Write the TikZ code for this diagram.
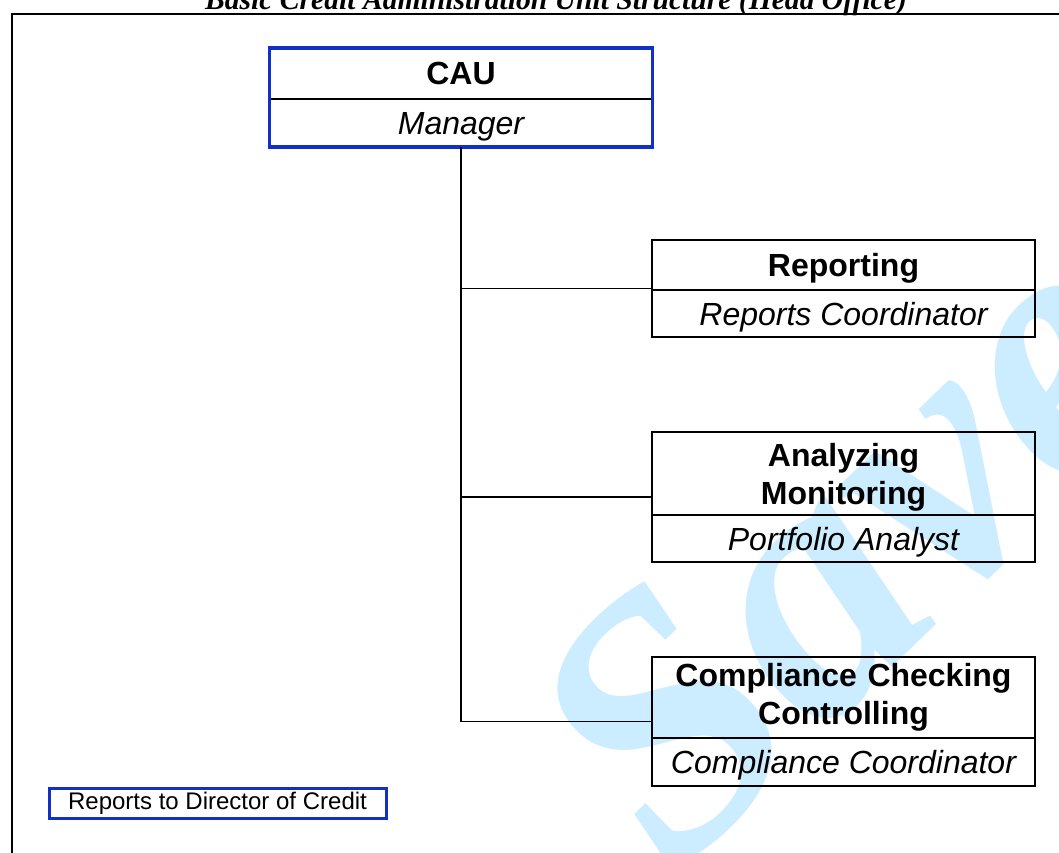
\documentclass[tikz,border=0pt]{standalone}
\usepackage{fontspec}
\setmainfont{Liberation Sans}
\newfontfamily\titlefont{Liberation Serif}
\usepackage{tikz}
\usetikzlibrary{positioning, calc}
\definecolor{caublue}{RGB}{16,48,200}
\definecolor{markblue}{RGB}{204,236,255}
\tikzstyle{head} = [rectangle, draw, line width=1pt, outer sep=0pt, minimum width=191.5pt, text width=185pt, align=center, inner sep=0pt, font=\bfseries\fontsize{16}{19}\selectfont]
\tikzstyle{role} = [rectangle, draw, line width=1pt, outer sep=0pt, minimum width=191.5pt, minimum height=23.5pt, text depth=0pt, inner sep=0pt, font=\itshape\fontsize{16}{19}\selectfont]
\tikzstyle{blueframe} = [draw=caublue, line width=1.6pt]
\tikzstyle{link} = [line width=0.9pt]

\begin{document}
\begin{tikzpicture}[x=0.5pt, y=-0.5pt]
        \useasboundingbox (0,0) rectangle (1059,852);
        % Watermark and page frame
        \node (mark) [rotate=44, text=markblue, font=\titlefont\bfseries\itshape\fontsize{182}{182}\selectfont] at (845,548) {Save};
        \node (title) [anchor=base, font=\titlefont\bfseries\itshape\fontsize{14.8}{17}\selectfont] at (556,9) {Basic Credit Administration Unit Structure (Head Office)};
        \draw [line width=1.2pt] (12,900) -- (12,14) -- (1100,14);

        % Nodes
        \node (cau) [head, minimum height=25.5pt, text depth=0pt, anchor=north] at (461,48) {CAU};
        \node (cauRole) [role, below=0pt of cau, minimum height=24pt] {Manager};
        \draw [blueframe] (cau.north west) rectangle (cauRole.south east);

        \node (rep) [head, minimum height=25pt, text depth=0pt, anchor=north] at (843.5,240) {Reporting};
        \node (repRole) [role, below=0pt of rep] {Reports Coordinator};

        \node (ana) [head, minimum height=41.5pt, text depth=19pt, anchor=north] at (843.5,432) {Analyzing\\Monitoring};
        \node (anaRole) [role, below=0pt of ana] {Portfolio Analyst};

        \node (comp) [head, minimum height=40.5pt, anchor=north] at (843.5,657) {Compliance Checking\\Controlling};
        \node (compRole) [role, below=0pt of comp, minimum height=24pt] {Compliance Coordinator};

        \node (legend) [draw=caublue, line width=1.5pt, minimum width=168.5pt, minimum height=15pt, inner sep=0pt, font=\fontsize{12}{14}\selectfont] at (217.5,803) {Reports to Director of Credit};

        % Lines, meeting each box half way down
        \coordinate (repMid) at ($(rep.north west)!0.5!(repRole.south west)$);
        \coordinate (anaMid) at ($(ana.north west)!0.5!(anaRole.south west)$);
        \coordinate (compMid) at ($(comp.north west)!0.5!(compRole.south west)$);
        \draw [link] (cauRole.south) |- (repMid);
        \draw [link] (cauRole.south) |- (anaMid);
        \draw [link] (cauRole.south) |- (compMid);
    \end{tikzpicture}
\end{document}
